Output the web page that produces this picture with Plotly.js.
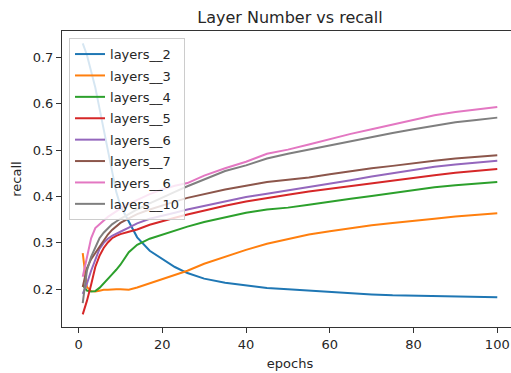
<!DOCTYPE html>
<html>
<head>
<meta charset="utf-8">
<script src="https://cdn.plot.ly/plotly-3.0.1.min.js"></script>
<style>
html, body { margin: 0; padding: 0; overflow: hidden; background: #fff; }
#chart { width: 530px; height: 373px; }
</style>
</head>
<body>
<div id="chart"></div>
<script>
const epochs = [1,2,3,4,5,6,7,8,9,10,12,14,17,20,23,26,30,35,40,45,50,55,60,65,70,75,80,85,90,95,100];

const layers2  = [0.730,0.705,0.670,0.635,0.590,0.545,0.500,0.450,0.410,0.380,0.345,0.312,0.283,0.265,0.248,0.235,0.223,0.214,0.208,0.203,0.200,0.197,0.194,0.191,0.189,0.187,0.186,0.185,0.184,0.1835,0.183];
const layers3  = [0.278,0.205,0.196,0.195,0.197,0.199,0.199,0.200,0.200,0.200,0.199,0.204,0.213,0.222,0.230,0.240,0.255,0.270,0.285,0.298,0.308,0.318,0.325,0.332,0.338,0.343,0.347,0.352,0.357,0.361,0.364];
const layers4  = [0.209,0.197,0.195,0.196,0.203,0.212,0.222,0.232,0.242,0.253,0.280,0.296,0.309,0.318,0.326,0.335,0.345,0.355,0.365,0.372,0.376,0.382,0.389,0.395,0.401,0.407,0.414,0.420,0.424,0.428,0.431];
const layers5  = [0.146,0.175,0.210,0.248,0.272,0.289,0.301,0.310,0.315,0.319,0.324,0.329,0.339,0.347,0.354,0.361,0.370,0.380,0.389,0.397,0.404,0.411,0.417,0.422,0.428,0.434,0.440,0.446,0.451,0.455,0.459];
const layers6  = [0.190,0.212,0.240,0.265,0.287,0.300,0.309,0.315,0.320,0.324,0.333,0.342,0.352,0.358,0.365,0.372,0.380,0.390,0.399,0.406,0.413,0.421,0.428,0.435,0.443,0.450,0.457,0.464,0.469,0.473,0.477];
const layers7  = [0.205,0.245,0.265,0.278,0.292,0.305,0.318,0.328,0.336,0.343,0.353,0.362,0.372,0.381,0.389,0.397,0.405,0.415,0.423,0.431,0.436,0.441,0.448,0.455,0.461,0.466,0.472,0.477,0.482,0.486,0.489];
const layers6b = [0.227,0.270,0.310,0.332,0.340,0.349,0.356,0.362,0.368,0.374,0.384,0.393,0.405,0.415,0.423,0.429,0.445,0.461,0.475,0.492,0.501,0.512,0.524,0.535,0.545,0.555,0.565,0.575,0.582,0.588,0.593];
const layers10 = [0.170,0.240,0.270,0.292,0.310,0.322,0.332,0.340,0.346,0.352,0.362,0.372,0.385,0.398,0.410,0.422,0.437,0.455,0.467,0.482,0.492,0.501,0.511,0.520,0.529,0.537,0.545,0.553,0.560,0.565,0.570];

const names = ['layers__2','layers__3','layers__4','layers__5','layers__6','layers__7','layers__6','layers__10'];
const seriesList = [layers2, layers3, layers4, layers5, layers6, layers7, layers6b, layers10];
const colors = ['#1f77b4','#ff7f0e','#2ca02c','#d62728','#9467bd','#8c564b','#e377c2','#7f7f7f'];

const xTicks = [0,20,40,60,80,100];
const yTicks = [0.2,0.3,0.4,0.5,0.6,0.7];

const traces = seriesList.map((ys, i) => ({
  type: 'scatter', mode: 'lines',
  x: epochs, y: ys, name: names[i],
  legendgroup: 'g' + i,
  line: {color: colors[i], width: 2}
}));

const font = {family: 'DejaVu Sans, sans-serif', size: 13, color: '#262626'};

const layout = {
  width: 530, height: 373,
  margin: {l: 62, r: 12, t: 31, b: 46},
  paper_bgcolor: '#ffffff', plot_bgcolor: '#ffffff',
  font: font,
  showlegend: true,
  title: {text: 'Layer Number vs recall', font: {family: 'DejaVu Sans, sans-serif', size: 16, color: '#262626'},
          x: 0.5, xref: 'paper', y: 1 - 17/373, yref: 'container', yanchor: 'middle'},
  xaxis: {
    range: [-3.95, 104.95], tickvals: xTicks, ticktext: xTicks.map(String),
    showgrid: false, zeroline: false, showline: true, mirror: true,
    linecolor: '#333333', linewidth: 1, ticks: 'outside', ticklen: 5, tickcolor: '#333333',
    tickfont: font,
    title: {text: 'epochs', font: font, standoff: 8}
  },
  yaxis: {
    range: [0.1187, 0.7567], tickvals: yTicks, ticktext: yTicks.map(v => v.toFixed(1)),
    showgrid: false, zeroline: false, showline: true, mirror: true,
    linecolor: '#333333', linewidth: 1, ticks: 'outside', ticklen: 5, tickcolor: '#333333',
    tickfont: font,
    title: {text: 'recall', font: font, standoff: 8}
  },
  legend: {
    x: 0.0154, y: 0.976, xanchor: 'left', yanchor: 'top',
    bgcolor: 'rgba(255,255,255,0.82)', bordercolor: '#cccccc', borderwidth: 1,
    font: font, tracegroupgap: 1.5, traceorder: 'grouped'
  }
};

Plotly.newPlot('chart', traces, layout, {staticPlot: true, displayModeBar: false});
</script>
</body>
</html>
